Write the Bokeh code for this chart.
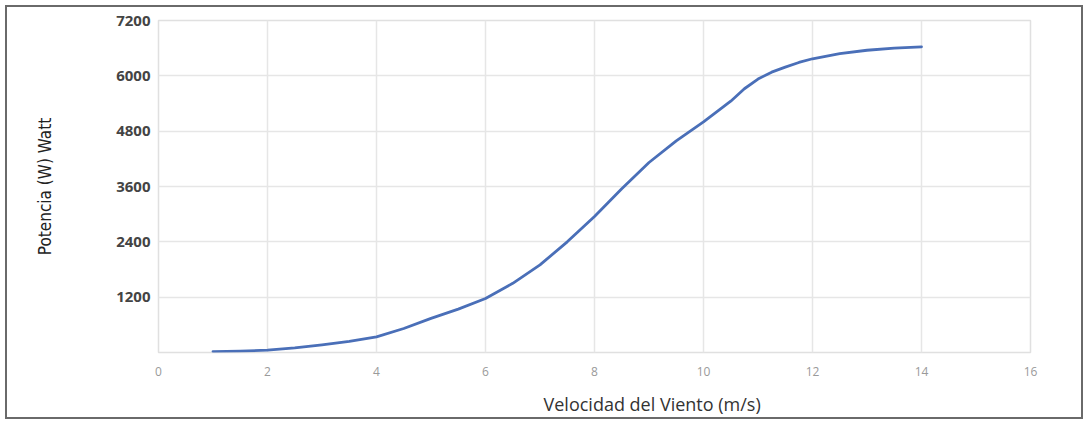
from bokeh.plotting import figure
from bokeh.models import FixedTicker, ColumnDataSource, Title
from bokeh.embed import file_html
from bokeh.resources import INLINE

# Wind speed (m/s) and power (W)
velocidad = [1, 1.5, 2, 2.5, 3, 3.5, 4, 4.5, 5, 5.5, 6, 6.5, 7, 7.5, 8, 8.5, 9,
             9.5, 10, 10.5, 10.75, 11, 11.25, 11.5, 11.75, 12, 12.5, 13, 13.5, 14]
potencia = [20, 30, 50, 100, 165, 240, 340, 520, 740, 940, 1170, 1500, 1900, 2400,
            2950, 3550, 4120, 4590, 5000, 5450, 5720, 5930, 6080, 6190, 6290, 6370,
            6480, 6555, 6600, 6630]
x_ticks = [0, 2, 4, 6, 8, 10, 12, 14, 16]
y_ticks = [1200, 2400, 3600, 4800, 6000, 7200]
y_grid = [0, 1200, 2400, 3600, 4800, 6000, 7200]
x_title = "Velocidad del Viento (m/s)"
y_title = "Potencia (W) Watt"

src = ColumnDataSource(dict(x=velocidad, y=potencia))

p = figure(width=1078, height=414, output_backend="svg", toolbar_location=None,
           x_range=(0, 16), y_range=(0, 7200))
p.min_border_left = 151
p.min_border_right = 55
p.min_border_top = 13
p.min_border_bottom = 69
p.styles = {"border": "2px solid #6a6a6a", "box-sizing": "border-box",
            "margin-left": "5px", "margin-top": "5px"}

p.line("x", "y", source=src, line_color="#4a6fb8", line_width=2.8,
       line_join="round", line_cap="round")

p.outline_line_color = "#e0e0e0"
p.outline_line_width = 1.5

p.xaxis.ticker = FixedTicker(ticks=x_ticks)
p.yaxis.ticker = FixedTicker(ticks=y_ticks)
p.xgrid.ticker = FixedTicker(ticks=x_ticks)
p.ygrid.ticker = FixedTicker(ticks=y_grid)
p.xgrid.grid_line_color = "#e6e6e6"
p.ygrid.grid_line_color = "#e6e6e6"
p.xgrid.grid_line_width = 1.5
p.ygrid.grid_line_width = 1.5

for ax in (p.xaxis[0], p.yaxis[0]):
    ax.axis_line_color = None
    ax.major_tick_line_color = None
    ax.minor_tick_line_color = None

p.xaxis.major_label_text_font = "Open Sans"
p.xaxis.major_label_text_font_size = "12px"
p.xaxis.major_label_text_color = "#9a9a9a"
p.xaxis.major_label_standoff = 8

p.yaxis.major_label_text_font = "Open Sans"
p.yaxis.major_label_text_font_size = "15px"
p.yaxis.major_label_text_font_style = "bold"
p.yaxis.major_label_text_color = "#444444"
p.yaxis.major_label_standoff = 2

p.yaxis.axis_label = y_title
p.yaxis.axis_label_text_font = "DejaVu Sans Condensed"
p.yaxis.axis_label_text_font_size = "17px"
p.yaxis.axis_label_text_font_style = "normal"
p.yaxis.axis_label_text_color = "#222222"
p.yaxis.axis_label_standoff = 58

p.add_layout(Title(text=x_title, align="left", offset=385, vertical_align="top",
                   standoff=0, padding=(0, 0, 13, 0),
                   text_font="Open Sans", text_font_size="18px",
                   text_font_style="normal", text_color="#333333"), "below")

open("out.html", "w").write(file_html(p, INLINE))
